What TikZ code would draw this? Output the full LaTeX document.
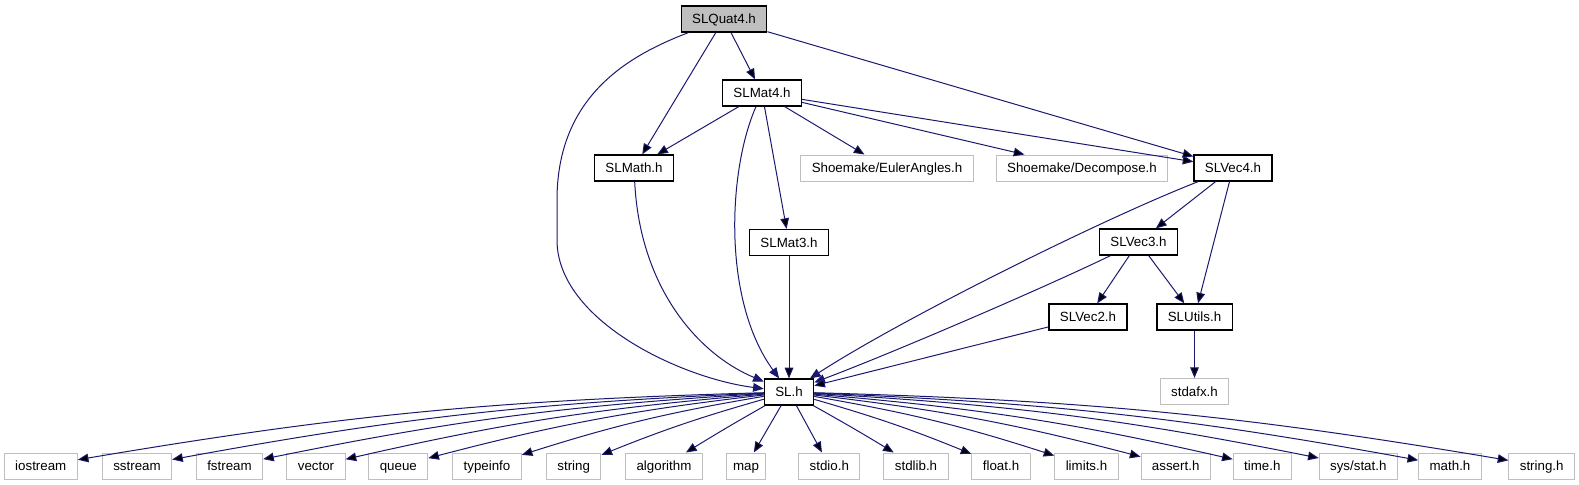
\documentclass[tikz,border=0pt]{standalone}
\usepackage{fontspec}
\setmainfont{Liberation Sans}
\usepackage{tikz}
\usetikzlibrary{arrows.meta}
\definecolor{navy}{RGB}{25,25,112}
\definecolor{lightgrey}{RGB}{191,191,191}

\begin{document}
\begin{tikzpicture}[
    x=0.75pt, y=-0.75pt,
    >={Triangle[length=8pt,width=6.5pt]},
    file/.style={draw=black, line width=0.9pt, fill=white, font=\fontsize{10}{12}\selectfont,
        minimum height=19.5pt, inner xsep=8.2pt, inner ysep=0pt, text height=7.2pt, text depth=0pt},
    sysfile/.style={file, draw=lightgrey, line width=0.75pt},
    incl/.style={draw=navy, ->, line width=0.75pt}
]
    \useasboundingbox (0,0) rectangle (1579,485);

    % ==================== PROJECT HEADERS ====================
    \node[file, fill=lightgrey] (quat) at (724,19) {SLQuat4.h};
    \node[file] (mat4) at (762,93) {SLMat4.h};
    \node[file] (math) at (634,168) {SLMath.h};
    \node[sysfile] (euler) at (887,168) {Shoemake/EulerAngles.h};
    \node[sysfile] (decomp) at (1082,168) {Shoemake/Decompose.h};
    \node[file] (vec4) at (1233,168) {SLVec4.h};
    \node[file] (mat3) at (789,242.5) {SLMat3.h};
    \node[file] (vec3) at (1138.5,242) {SLVec3.h};
    \node[file] (vec2) at (1088,317) {SLVec2.h};
    \node[file] (utils) at (1194.5,317) {SLUtils.h};
    \node[file] (sl) at (789,392) {SL.h};
    \node[sysfile] (stdafx) at (1194.5,391.5) {stdafx.h};

    % ==================== SYSTEM HEADERS ====================
    \node[sysfile] (iostream) at (40.8,466) {iostream};
    \node[sysfile] (sstream) at (137,466) {sstream};
    \node[sysfile] (fstream) at (229.5,466) {fstream};
    \node[sysfile] (vector) at (316,466) {vector};
    \node[sysfile] (queue) at (398.3,466) {queue};
    \node[sysfile] (typeinfo) at (487,466) {typeinfo};
    \node[sysfile] (string) at (573.7,466) {string};
    \node[sysfile] (algorithm) at (664,466) {algorithm};
    \node[sysfile, inner xsep=4.9pt] (map) at (746,466) {map};
    \node[sysfile] (stdio) at (829.3,466) {stdio.h};
    \node[sysfile] (stdlib) at (916,466) {stdlib.h};
    \node[sysfile] (float) at (1001,466) {float.h};
    \node[sysfile] (limits) at (1086.5,466) {limits.h};
    \node[sysfile] (assert) at (1175.7,466) {assert.h};
    \node[sysfile] (time) at (1262.3,466) {time.h};
    \node[sysfile] (sysstat) at (1358.3,466) {sys/stat.h};
    \node[sysfile] (cmath) at (1450,466) {math.h};
    \node[sysfile] (cstring) at (1541.7,466) {string.h};

    % ==================== INCLUDES ====================
    % SLQuat4.h
    \draw[incl] (quat) .. controls (630,55) and (557,95) .. (557,200)
        -- (557,240) .. controls (557,320) and (680,378) .. (sl);
    \path[incl] (quat) edge (math);
    \path[incl] (quat) edge (mat4);
    \path[incl] (quat) edge (vec4);

    % SLMat4.h
    \path[incl] (mat4) edge (math);
    \draw[incl] (mat4) .. controls (728,170) and (722,300) .. (sl);
    \path[incl] (mat4) edge (mat3);
    \path[incl] (mat4) edge (euler);
    \path[incl] (mat4) edge (decomp);
    \path[incl] (mat4) edge (vec4);

    % SLMath.h, SLMat3.h
    \draw[incl] (math) .. controls (640,290) and (700,355) .. (sl);
    \path[incl] (mat3) edge (sl);

    % SLVec4.h, SLVec3.h, SLVec2.h, SLUtils.h
    \draw[incl] (vec4) .. controls (1100,220) and (900,320) .. (sl);
    \path[incl] (vec4) edge (vec3);
    \path[incl] (vec4) edge (utils);
    \draw[incl] (vec3) .. controls (1050,285) and (900,350) .. (sl);
    \path[incl] (vec3) edge (vec2);
    \path[incl] (vec3) edge (utils);
    \path[incl] (vec2) edge (sl);
    \path[incl] (utils) edge (stdafx);

    % SL.h to the left
    \path[incl] (sl) edge[bend right=4] (iostream);
    \path[incl] (sl) edge[bend right=4] (sstream);
    \path[incl] (sl) edge[bend right=4] (fstream);
    \path[incl] (sl) edge[bend right=4] (vector);
    \path[incl] (sl) edge[bend right=4] (queue);
    \path[incl] (sl) edge[bend right=4] (typeinfo);
    \path[incl] (sl) edge[bend right=3] (string);
    \path[incl] (sl) edge[bend right=1] (algorithm);
    \path[incl] (sl) edge (map);
    % SL.h to the right
    \path[incl] (sl) edge (stdio);
    \path[incl] (sl) edge[bend left=1] (stdlib);
    \path[incl] (sl) edge[bend left=3] (float);
    \path[incl] (sl) edge[bend left=4] (limits);
    \path[incl] (sl) edge[bend left=4] (assert);
    \path[incl] (sl) edge[bend left=4] (time);
    \path[incl] (sl) edge[bend left=4] (sysstat);
    \path[incl] (sl) edge[bend left=4] (cmath);
    \path[incl] (sl) edge[bend left=4] (cstring);
\end{tikzpicture}
\end{document}
